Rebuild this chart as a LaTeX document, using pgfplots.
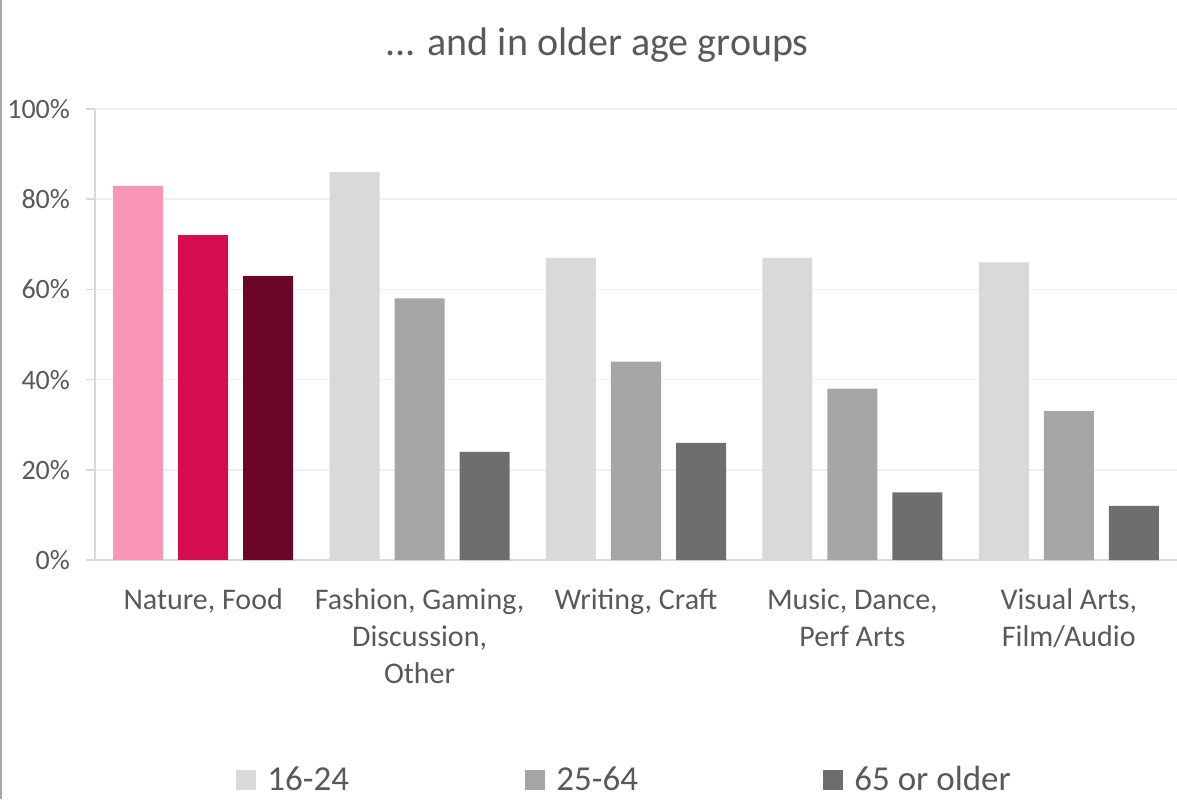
\documentclass[border=0pt]{standalone}
\usepackage{pgfplots}
\pgfplotsset{compat=1.18}
\usepackage{fontspec}
\setmainfont{Carlito}
\definecolor{pk1}{HTML}{F895B9}
\definecolor{pk2}{HTML}{D50C50}
\definecolor{pk3}{HTML}{6B0529}
\definecolor{g1}{HTML}{D9D9D9}
\definecolor{g2}{HTML}{A6A6A6}
\definecolor{g3}{HTML}{6E6E6E}
\definecolor{txt}{HTML}{595959}
\definecolor{gridc}{HTML}{EFEFEF}
\definecolor{axl}{HTML}{D9D9D9}
\pgfplotsset{sqlegend/.style={legend image code/.code={\fill[##1,draw=none] (0pt,-5pt) rectangle (10pt,5pt);}}}
\begin{document}
\begin{tikzpicture}
\useasboundingbox (-47.5pt,-119.5pt) rectangle (541pt,280pt);
\draw[g2, line width=1pt] (-47pt,-119.5pt) -- (-47pt,280pt);
\begin{axis}[
  scale only axis, width=541pt, height=225.5pt,
  xmin=-0.5, xmax=4.5, ymin=0, ymax=100,
  axis x line*=bottom, axis y line*=left,
  axis line style={axl, line width=0.8pt},
  ytick={0,20,...,100},
  yticklabels={0\%,20\%,40\%,60\%,80\%,100\%},
  ymajorgrids, xmajorgrids=false, xminorgrids=false, yminorgrids=false,
  major grid style={gridc, line width=0.8pt},
  ytick style={axl, line width=0.8pt},
  tick align=outside, major tick length=4.5pt,
  xtick={0,1,2,3,4},
  xticklabels={{Nature, Food},{Fashion, Gaming,\\Discussion,\\Other},{Writing, Craft},{Music, Dance,\\Perf Arts},{Visual Arts,\\Film/Audio}},
  x tick style={draw=none},
  minor xtick={-0.5,0.5,1.5,2.5,3.5,4.5},
  minor x tick style={axl, line width=0.8pt},
  minor tick length=5pt,
  xticklabel style={align=center, font=\fontsize{15}{18.5}\selectfont, text=txt, yshift=-6.5pt},
  yticklabel style={font=\fontsize{14}{16}\selectfont, text=txt, xshift=-4.5pt},
  /pgf/number format/assume math mode=true,
  title={... and in older age groups},
  title style={at={(0.464,1.115)}, anchor=center, font=\fontsize{20}{24}\selectfont, text=txt},
  legend columns=3,
  legend style={at={(0.1303,-0.4878)}, anchor=west, draw=none, fill=none, inner sep=0pt,
    font=\fontsize{17.5}{20}\selectfont, text=txt,
    /tikz/every even column/.append style={column sep=3pt},
    /tikz/every odd column/.append style={column sep=3.5pt}},
  legend cell align=left,
  clip=false,
]
\addplot[ybar, bar width=25pt, bar shift=-32.5pt, fill=g1, draw=none, sqlegend] coordinates {(0,83) (1,86) (2,67) (3,67) (4,66)};
\addlegendentry{\makebox[124pt][l]{16-24}}
\addplot[ybar, bar width=25pt, bar shift=0pt, fill=g2, draw=none, sqlegend] coordinates {(0,72) (1,58) (2,44) (3,38) (4,33)};
\addlegendentry{\makebox[128.5pt][l]{25-64}}
\addplot[ybar, bar width=25pt, bar shift=32.5pt, fill=g3, draw=none, sqlegend] coordinates {(0,63) (1,24) (2,26) (3,15) (4,12)};
\addlegendentry{65 or older}
\addplot[ybar, bar width=25pt, bar shift=-32.5pt, fill=pk1, draw=none, forget plot] coordinates {(0,83)};
\addplot[ybar, bar width=25pt, bar shift=0pt, fill=pk2, draw=none, forget plot] coordinates {(0,72)};
\addplot[ybar, bar width=25pt, bar shift=32.5pt, fill=pk3, draw=none, forget plot] coordinates {(0,63)};
\end{axis}
\end{tikzpicture}
\end{document}
